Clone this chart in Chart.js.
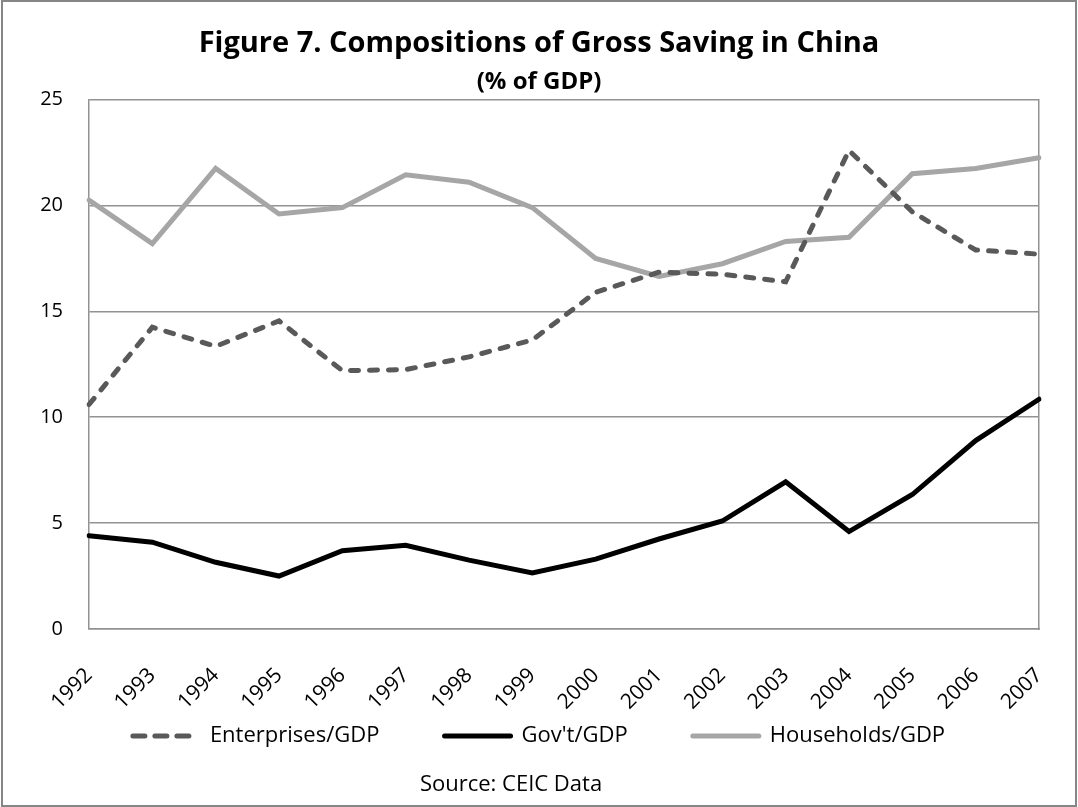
<!DOCTYPE html>
<html>
<head>
<meta charset="utf-8">
<title>Compositions of Gross Saving in China</title>
<style>
*{padding:0;margin:0;box-sizing:border-box}
html, body {background:#ffffff}
.wrapper {
  position: absolute;
  left: 0;
  top: 0;
  width: 1078px;
  height: 807px;
}
</style>
</head>
<body>
<div class="wrapper">
<canvas id="myChart"></canvas>
</div>
<script src="https://cdn.jsdelivr.net/npm/chart.js"></script>
<script>
const years = ['1992', '1993', '1994', '1995', '1996', '1997', '1998', '1999',
  '2000', '2001', '2002', '2003', '2004', '2005', '2006', '2007'];
const enterprises = [10.6, 14.25, 13.35, 14.55, 12.2, 12.25, 12.85, 13.65,
  15.9, 16.85, 16.75, 16.4, 22.6, 19.7, 17.9, 17.7];
const government = [4.4, 4.1, 3.15, 2.5, 3.7, 3.95, 3.25, 2.65,
  3.3, 4.25, 5.1, 6.95, 4.6, 6.35, 8.9, 10.85];
const households = [20.25, 18.2, 21.75, 19.6, 19.9, 21.45, 21.1, 19.9,
  17.5, 16.65, 17.25, 18.3, 18.5, 21.5, 21.75, 22.25];
const yTicks = [0, 5, 10, 15, 20, 25];

const fontFamily = '"Open Sans", Lato, sans-serif';
const gridColor = '#929292';
// extra room after a legend entry so the three keys spread out
const legendGap = ' '.repeat(10);

// outer frame, white background and the source note
const framePlugin = {
  id: 'frame',
  beforeDraw(chart) {
    const ctx = chart.ctx;
    ctx.save();
    ctx.fillStyle = '#ffffff';
    ctx.fillRect(0, 0, chart.width, chart.height);
    ctx.restore();
  },
  afterDraw(chart) {
    const ctx = chart.ctx;
    ctx.save();
    ctx.strokeStyle = '#868686';
    ctx.lineWidth = 2;
    ctx.strokeRect(2, 1, chart.width - 4, chart.height - 2);
    ctx.fillStyle = '#000000';
    ctx.font = '22px ' + fontFamily;
    ctx.textAlign = 'center';
    ctx.textBaseline = 'middle';
    ctx.fillText('Source: CEIC Data', 511, 785);
    ctx.restore();
  },
};

const ctx = document.getElementById('myChart').getContext('2d');
Chart.defaults.font.family = fontFamily;
Chart.defaults.color = '#000000';

const myChart = new Chart(ctx, {
  type: 'line',
  data: {
    labels: years,
    datasets: [
      {
        label: 'Enterprises/GDP',
        data: enterprises,
        borderColor: '#595959',
        backgroundColor: '#595959',
        borderWidth: 5,
        borderDash: [8, 11],
        borderCapStyle: 'round',
        pointRadius: 0,
        tension: 0,
      },
      {
        label: 'Gov\'t/GDP',
        data: government,
        borderColor: '#000000',
        backgroundColor: '#000000',
        borderWidth: 5,
        borderCapStyle: 'round',
        pointRadius: 0,
        tension: 0,
      },
      {
        label: 'Households/GDP',
        data: households,
        borderColor: '#a6a6a6',
        backgroundColor: '#a6a6a6',
        borderWidth: 5,
        borderCapStyle: 'round',
        pointRadius: 0,
        tension: 0,
      },
    ],
  },
  options: {
    responsive: true,
    maintainAspectRatio: false,
    animation: false,
    layout: {
      padding: {
        left: 0,
        right: 0,
        top: 0,
        bottom: 50,
      },
    },
    plugins: {
      title: {
        display: true,
        text: 'Figure 7. Compositions of Gross Saving in China',
        color: '#000000',
        font: { size: 29, weight: 'bold' },
        padding: { top: 26, bottom: 0 },
      },
      subtitle: {
        display: true,
        text: '(% of GDP)',
        color: '#000000',
        font: { size: 24, weight: 'bold' },
        padding: { top: 7, bottom: 3 },
      },
      legend: {
        display: true,
        position: 'bottom',
        labels: {
          usePointStyle: true,
          pointStyle: 'line',
          pointStyleWidth: 66,
          padding: 8,
          color: '#000000',
          font: { size: 22 },
          // keep the dash pattern and stroke width of each series in the key
          generateLabels: (chart) => {
            const items = Chart.defaults.plugins.legend.labels.generateLabels(chart);
            items.forEach((item, i) => {
              const ds = chart.data.datasets[item.datasetIndex];
              item.lineDash = ds.borderDash ? [12, 10] : [];
              item.lineWidth = 5;
              item.lineCap = 'round';
              item.strokeStyle = ds.borderColor;
              if (i < items.length - 1) {
                item.text += legendGap;
              }
            });
            return items;
          },
        },
      },
      tooltip: { enabled: false },
    },
    scales: {
      x: {
        offset: false,
        grid: { display: false, drawTicks: true, tickLength: 22 },
        border: { display: true, color: gridColor, width: 1.5 },
        ticks: {
          autoSkip: false,
          maxRotation: 45,
          minRotation: 45,
          padding: 12,
          color: '#000000',
          font: { size: 21 },
        },
        afterFit: (scale) => { scale.height = 88; },
      },
      y: {
        min: 0,
        max: 25,
        afterBuildTicks: (scale) => { scale.ticks = yTicks.map(v => ({ value: v })); },
        grid: { color: gridColor, lineWidth: 1.5, drawTicks: false },
        border: { display: true, color: gridColor, width: 1.5 },
        ticks: {
          padding: 26,
          color: '#000000',
          font: { size: 20 },
        },
        afterFit: (scale) => { scale.width = 89; },
      },
      yRight: {
        position: 'right',
        min: 0,
        max: 25,
        grid: { display: false, drawTicks: false },
        border: { display: true, color: gridColor, width: 1.5 },
        ticks: { display: false },
        afterFit: (scale) => { scale.width = 39; },
      },
    },
  },
  plugins: [framePlugin],
});
</script>
</body>
</html>
